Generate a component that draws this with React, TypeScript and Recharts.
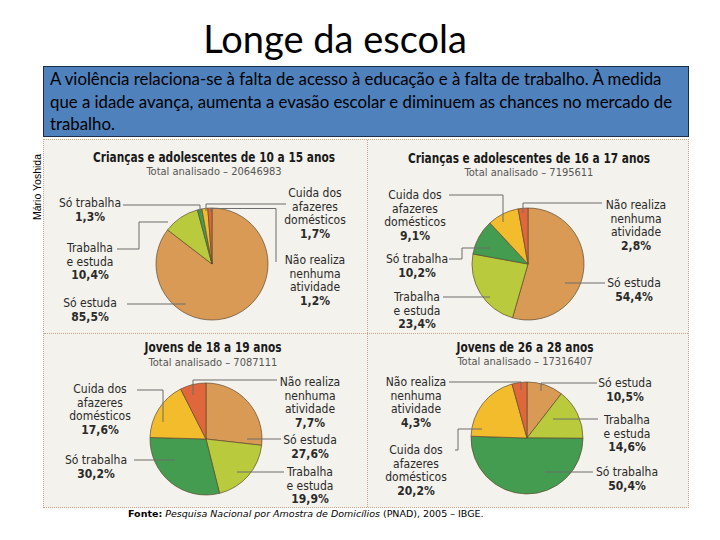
import { PieChart, Pie, Cell } from "recharts";

const categories = [
  "Só estuda",
  "Trabalha e estuda",
  "Só trabalha",
  "Cuida dos afazeres domésticos",
  "Não realiza nenhuma atividade",
];
const categoryLines = [
  ["Só estuda"],
  ["Trabalha", "e estuda"],
  ["Só trabalha"],
  ["Cuida dos", "afazeres", "domésticos"],
  ["Não realiza", "nenhuma", "atividade"],
];
const sliceColors = ["#D99A55", "#B9CB3C", "#439C4F", "#F2BC2C", "#E0663C"];

const groupTitles = [
  "Crianças e adolescentes de 10 a 15 anos",
  "Crianças e adolescentes de 16 a 17 anos",
  "Jovens de 18 a 19 anos",
  "Jovens de 26 a 28 anos",
];
const groupTotals = ["20646983", "7195611", "7087111", "17316407"];

const ages10to15 = [85.5, 10.4, 1.3, 1.7, 1.2];
const ages16to17 = [54.4, 23.4, 10.2, 9.1, 2.8];
const ages18to19 = [27.6, 19.9, 30.2, 17.6, 7.7];
const ages26to28 = [10.5, 14.6, 50.4, 20.2, 4.3];
const groupValues = [ages10to15, ages16to17, ages18to19, ages26to28];

// page layout: pie centre, title position, label spots + leader paths
const layouts = [
  {
    cx: 212, cy: 264, r: 56, titleX: 214, titleY: 157, totalY: 172,
    labels: [
      { x: 90, y: 303, path: [[127, 304], [186, 304]] },
      { x: 90, y: 248, path: [[117, 249], [139, 249], [139, 222], [168, 222]] },
      { x: 90, y: 203, path: [[123, 205], [200, 205], [200, 213]] },
      { x: 315, y: 193, path: [[286, 204], [206, 204], [206, 211]] },
      { x: 315, y: 260, path: [[276, 262], [276, 208.5], [211, 208.5], [211, 212]] },
    ],
  },
  {
    cx: 528, cy: 264, r: 56, titleX: 529, titleY: 158, totalY: 173,
    labels: [
      { x: 634, y: 283, path: [[605, 283], [565, 283]] },
      { x: 417, y: 297, path: [[443, 297], [490, 297]] },
      { x: 417, y: 259, path: [[449, 259], [462, 259], [462, 248], [490, 248]] },
      { x: 415, y: 195, path: [[449, 195], [503, 195], [503, 222]] },
      { x: 636, y: 205, path: [[602, 203], [523, 203], [523, 213]] },
    ],
  },
  {
    cx: 206, cy: 439, r: 56, titleX: 213, titleY: 347, totalY: 363,
    labels: [
      { x: 310, y: 440, path: [[281, 439], [247, 439]] },
      { x: 310, y: 472, path: [[284, 472], [237, 472]] },
      { x: 96, y: 460, path: [[134, 460], [175, 460]] },
      { x: 100, y: 389, path: [[137, 390], [163, 390], [163, 422]] },
      { x: 310, y: 382, path: [[277, 380], [193, 380], [193, 395]] },
    ],
  },
  {
    cx: 527, cy: 438, r: 56, titleX: 525, titleY: 347, totalY: 362,
    labels: [
      { x: 625, y: 383, path: [[597, 383], [541, 383], [541, 391]] },
      { x: 627, y: 420, path: [[598, 419], [553, 419]] },
      { x: 627, y: 472, path: [[593, 472], [545, 472]] },
      { x: 416, y: 450, path: [[455, 450], [458, 450], [458, 429], [482, 429]] },
      { x: 416, y: 382, path: [[449, 382], [521, 382], [521, 390]] },
    ],
  },
];

const LINE_H = 13.6;
const labelFont = "'DejaVu Sans Condensed', 'Liberation Sans Narrow', sans-serif";

const fmt = (v: number) => v.toFixed(1).replace(".", ",") + "%";

function makeLabel(g: number) {
  return (props: any) => {
    const i = props.index;
    const spot = layouts[g].labels[i];
    const lines = categoryLines[i];
    return (
      <g key={`lab-${g}-${i}`}>
        <polyline
          points={spot.path.map((p) => p.join(",")).join(" ")}
          fill="none"
          stroke="#6d6d6d"
          strokeWidth={1}
        />
        <text
          textAnchor="middle"
          fontFamily={labelFont}
          fontSize={12}
          fill="#2a2a2a"
        >
          {lines.map((t, k) => (
            <tspan key={k} x={spot.x} y={spot.y + k * LINE_H + 4.2}>
              {t}
            </tspan>
          ))}
          <tspan
            x={spot.x}
            y={spot.y + lines.length * LINE_H + 4.2}
            fontWeight="bold"
          >
            {fmt(props.payload.value)}
          </tspan>
        </text>
      </g>
    );
  };
}

export default function App() {
  const datasets = groupValues.map((vals) =>
    vals.map((v, i) => ({ name: categories[i], value: v }))
  );

  return (
    <div
      style={{
        position: "absolute",
        left: 0,
        top: 0,
        width: 720,
        height: 540,
        background: "#fff",
        overflow: "hidden",
        fontFamily: "Lato, sans-serif",
      }}
    >
      <div
        style={{
          position: "absolute",
          left: 0,
          width: 670,
          top: 15,
          textAlign: "center",
          fontSize: 38,
          lineHeight: "46px",
          color: "#000",
        }}
      >
        Longe da escola
      </div>

      <div
        style={{
          position: "absolute",
          left: 43,
          top: 66,
          width: 646,
          height: 71,
          boxSizing: "border-box",
          background: "#4F81BD",
          border: "1px solid #1c2c44",
          fontSize: 16.8,
          lineHeight: "22.5px",
          color: "#000",
          padding: "1px 0 0 6px",
          whiteSpace: "nowrap",
        }}
      >
        A violência relaciona-se à falta de acesso à educação e à falta de trabalho. À medida
        <br />
        que a idade avança, aumenta a evasão escolar e diminuem as chances no mercado de
        <br />
        trabalho.
      </div>

      <div
        style={{
          position: "absolute",
          left: 37,
          top: 187,
          transform: "translate(-50%, -50%) rotate(-90deg)",
          fontFamily: "'Liberation Sans', Arial, sans-serif",
          fontSize: 10.5,
          whiteSpace: "nowrap",
        }}
      >
        Mário Yoshida
      </div>

      {/* panel with quadrants */}
      <div
        style={{
          position: "absolute",
          left: 43,
          top: 139,
          width: 646,
          height: 369,
          boxSizing: "border-box",
          background: "#F4F2EC",
          border: "1px dotted #c9a58e",
        }}
      />
      <div
        style={{
          position: "absolute",
          left: 367,
          top: 140,
          width: 0,
          height: 367,
          borderLeft: "1px dotted #c9a58e",
        }}
      />
      <div
        style={{
          position: "absolute",
          left: 44,
          top: 333,
          width: 644,
          height: 0,
          borderTop: "1px dotted #c9a58e",
        }}
      />

      {layouts.map((l, g) => (
        <div key={g}>
          <div
            style={{
              position: "absolute",
              left: l.titleX - 160,
              width: 320,
              top: l.titleY - 9,
              textAlign: "center",
              fontFamily: labelFont,
              fontWeight: "bold",
              fontSize: 14,
              lineHeight: "18px",
              color: "#1a1a1a",
              transform: "scaleX(0.84)",
            }}
          >
            {groupTitles[g]}
          </div>
          <div
            style={{
              position: "absolute",
              left: l.titleX - 160,
              width: 320,
              top: l.totalY - 7,
              textAlign: "center",
              fontFamily: labelFont,
              fontSize: 11,
              lineHeight: "14px",
              color: "#555",
            }}
          >
            Total analisado – {groupTotals[g]}
          </div>
        </div>
      ))}

      <div style={{ position: "absolute", left: 0, top: 0 }}>
        <PieChart width={720} height={540} margin={{ top: 0, right: 0, bottom: 0, left: 0 }}>
          {datasets.map((data, g) => (
            <Pie
              key={g}
              data={data}
              dataKey="value"
              nameKey="name"
              cx={layouts[g].cx}
              cy={layouts[g].cy}
              outerRadius={layouts[g].r}
              startAngle={90}
              endAngle={-270}
              isAnimationActive={false}
              labelLine={false}
              label={makeLabel(g)}
            >
              {data.map((d, i) => (
                <Cell key={i} fill={sliceColors[i]} stroke="#5e4b30" strokeWidth={0.7} />
              ))}
            </Pie>
          ))}
        </PieChart>
      </div>

      <div
        style={{
          position: "absolute",
          left: 128,
          top: 508,
          fontFamily: "'DejaVu Sans', sans-serif",
          fontSize: 9.5,
          lineHeight: "12px",
          whiteSpace: "nowrap",
          color: "#000",
        }}
      >
        <b>Fonte:</b> <i>Pesquisa Nacional por Amostra de Domicílios</i> (PNAD), 2005 – IBGE.
      </div>
    </div>
  );
}
